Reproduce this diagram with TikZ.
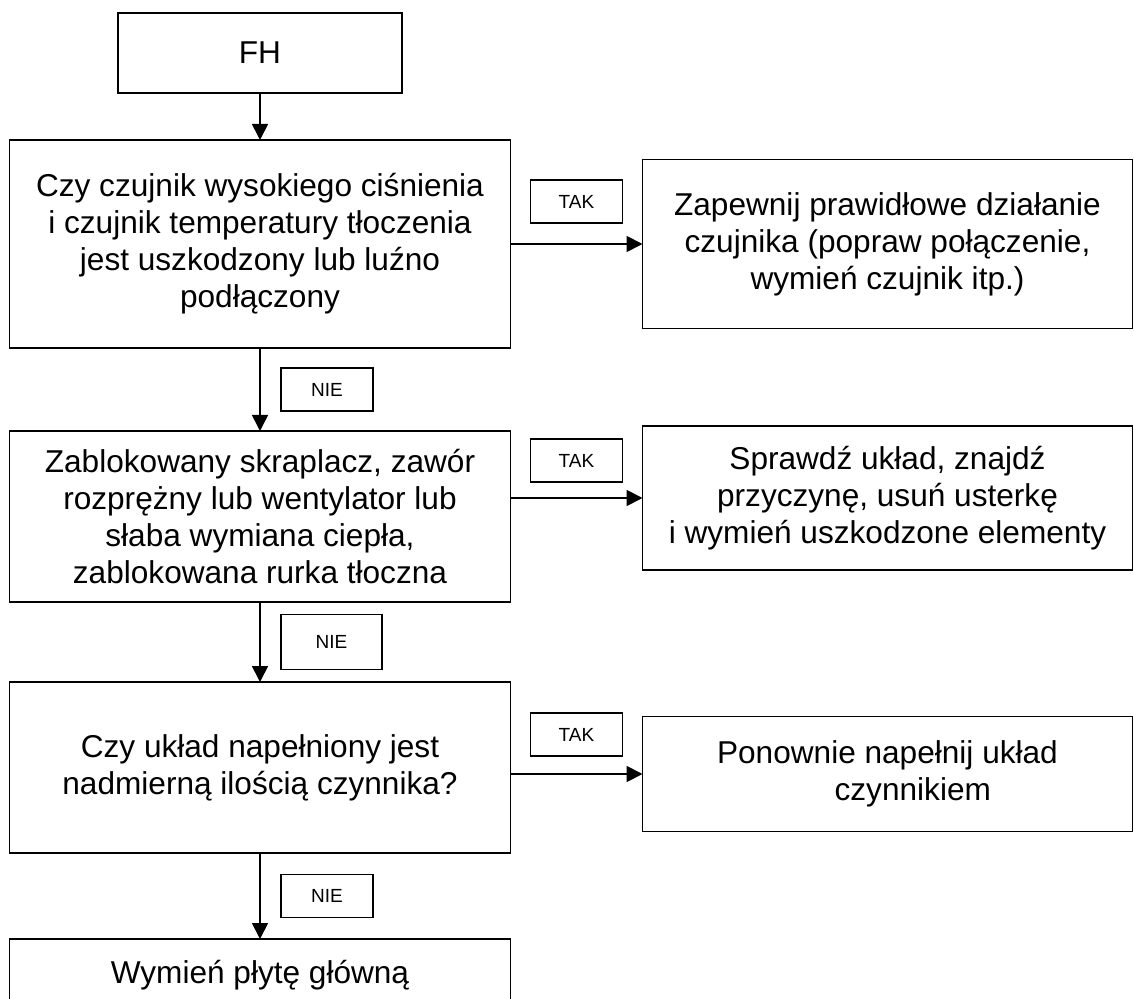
\documentclass[tikz,border=0pt]{standalone}
\usepackage{fontspec}
\setmainfont{Liberation Sans}
\usetikzlibrary{positioning,arrows.meta}

\begin{document}
\begin{tikzpicture}[node distance=1cm,
    block/.style={rectangle,draw,line width=.9pt,outer sep=0pt,align=center,minimum width=250.5pt,font=\fontsize{15.8}{18.5}\selectfont},
    res/.style={block,minimum width=245pt},
    lbl/.style={rectangle,draw,line width=.8pt,outer sep=0pt,minimum width=46pt,minimum height=21.5pt,font=\fontsize{9.5}{11}\selectfont},
    arrow/.style={-{Triangle[length=8pt,width=8pt]},line width=.9pt}]
    \useasboundingbox (0,0) rectangle (567pt,-499.5pt);
    \node[block,minimum width=142pt,minimum height=40pt] (fh) at (130pt,-26.5pt) {FH};
    \node[block,minimum height=104pt,below=23.5pt of fh] (q1) {Czy czujnik wysokiego ciśnienia\\i czujnik temperatury tłoczenia\\jest uszkodzony lub luźno\\podłączony};
    \node[block,minimum height=85.5pt,below=41.5pt of q1] (q2) {Zablokowany skraplacz, zawór\\rozprężny lub wentylator lub\\słaba wymiana ciepła,\\zablokowana rurka tłoczna};
    \node[block,minimum height=85.5pt,below=40pt of q2] (q3) {Czy układ napełniony jest\\nadmierną ilością czynnika?};
    \node[block,minimum height=36pt,below=43pt of q3] (w) {Wymień płytę główną};
    \node[res,minimum height=84.5pt,right=66pt of q1] (r1) {Zapewnij prawidłowe działanie\\czujnika (popraw połączenie,\\wymień czujnik itp.)};
    \node[res,minimum height=72pt,right=66pt of q2,yshift=9.25pt] (r2) {Sprawdź układ, znajdź\\przyczynę, usuń usterkę\\i wymień uszkodzone elementy};
    \node[res,minimum height=57.5pt,right=66pt of q3,yshift=-3.25pt] (r3) {Ponownie napełnij układ\\\hspace*{1.6em}czynnikiem};
    \draw[arrow] (fh) -- (q1);
    \draw[arrow] (q1) -- node[lbl,right=10.5pt] (n1) {NIE} (q2);
    \draw[arrow] (q2) -- node[lbl,right=10.5pt,minimum width=50.5pt,minimum height=27.5pt] (n2) {NIE} (q3);
    \draw[arrow] (q3) -- node[lbl,right=10.5pt] (n3) {NIE} (w);
    \draw[arrow] (q1.east |- r1.west) -- node[lbl,above=10.5pt] (t1) {TAK} (r1.west);
    \draw[arrow] (q2.east |- r2.west) -- node[lbl,above=8pt] (t2) {TAK} (r2.west);
    \draw[arrow] (q3.east |- r3.west) -- node[lbl,above=9pt] (t3) {TAK} (r3.west);
\end{tikzpicture}
\end{document}
